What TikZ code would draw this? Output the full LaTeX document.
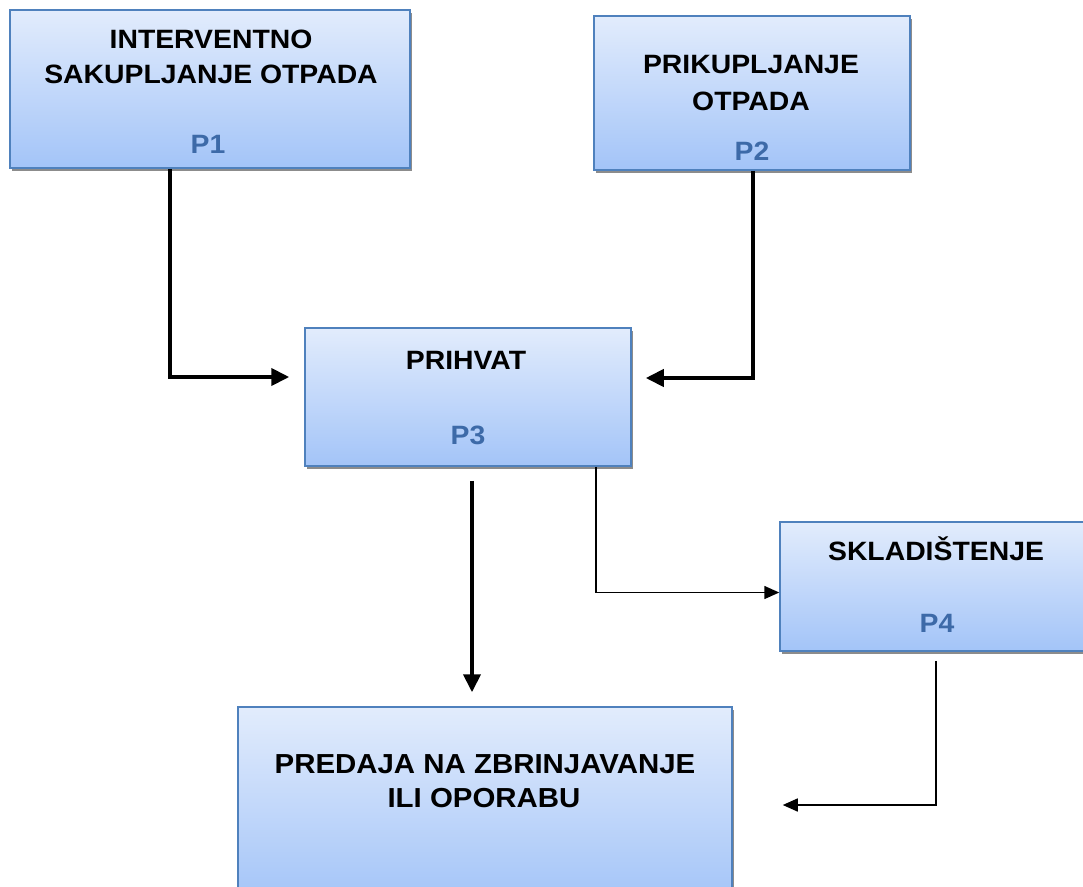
\documentclass[tikz,border=0pt]{standalone}
\usepackage{fontspec}
\setmainfont{Liberation Sans}
\newfontfamily\boxfont{Liberation Sans}[FakeStretch=1.07]
\usetikzlibrary{arrows.meta,shadows,calc}

\definecolor{boxtop}{RGB}{226,236,252}
\definecolor{boxbot}{RGB}{163,196,248}
\definecolor{boxline}{RGB}{79,129,189}
\definecolor{plabel}{RGB}{61,106,168}

\tikzset{
  procbox/.style={draw=boxline, line width=1.5pt, top color=boxtop, bottom color=boxbot,
    drop shadow={shadow xshift=2pt, shadow yshift=-3pt, fill=black!45, opacity=1},
    inner sep=0pt},
  ttl/.style={anchor=base, inner sep=0pt, font=\boxfont\bfseries\fontsize{26.5}{30}\selectfont},
  ttlbig/.style={ttl, font=\boxfont\bfseries\fontsize{27.5}{32}\selectfont},
  pnum/.style={ttl, text=plabel},
  thk/.style={line width=4pt, -{Triangle[length=18pt,width=17pt]}},
  thn/.style={line width=1.5pt, -{Triangle[length=15pt,width=13pt]}}
}

\begin{document}
\begin{tikzpicture}[x=1pt,y=-1pt]
\useasboundingbox (0,0) rectangle (1083,886);
\clip (0,0) rectangle (1083,886);

% boxes
\node[procbox, minimum width=400pt, minimum height=158pt] (p1) at (210,89) {};
\node[procbox, minimum width=316pt, minimum height=154pt] (p2) at (752,93) {};
\node[procbox, minimum width=326pt, minimum height=138pt] (p3) at (468,397) {};
\node[procbox, minimum width=312pt, minimum height=129pt] (p4) at (936,586.5) {};
\node[procbox, minimum width=494pt, minimum height=196pt] (p5) at (485,805) {};

% texts
\node[ttl] (p1a) at (211,48) {INTERVENTNO};
\node[ttl] (p1b) at (211,83) {SAKUPLJANJE OTPADA};
\node[pnum] (p1n) at (208,153) {P1};
\node[ttl] (p2a) at (751,73) {PRIKUPLJANJE};
\node[ttl] (p2b) at (751,110) {OTPADA};
\node[pnum] (p2n) at (752,160) {P2};
\node[ttl] (p3a) at (466,369) {PRIHVAT};
\node[pnum] (p3n) at (468,444) {P3};
\node[ttl] (p4a) at (936,560) {SKLADIŠTENJE};
\node[pnum] (p4n) at (937,632) {P4};
\node[ttlbig] (p5a) at (485,773) {PREDAJA NA ZBRINJAVANJE};
\node[ttlbig] (p5b) at (484,807) {ILI OPORABU};

% connectors
\coordinate (d3) at ([xshift=4pt]p3.south);
\draw[thk] ([xshift=-40pt]p1.south) |- ([shift={(-15pt,20pt)}]p3.west);
\draw[thk] ([xshift=1pt]p2.south) |- ([shift={(14pt,19pt)}]p3.east);
\draw[thk] ([yshift=-14pt]d3) -- ($(d3 |- p5.north)+(0pt,14pt)$);
\draw[thn] ([xshift=-36pt]p3.south east) |- ([yshift=-6pt]p4.west);
\draw[thn] ([yshift=-9pt]p4.south) |- ([xshift=50pt]p5.east);
\end{tikzpicture}
\end{document}
